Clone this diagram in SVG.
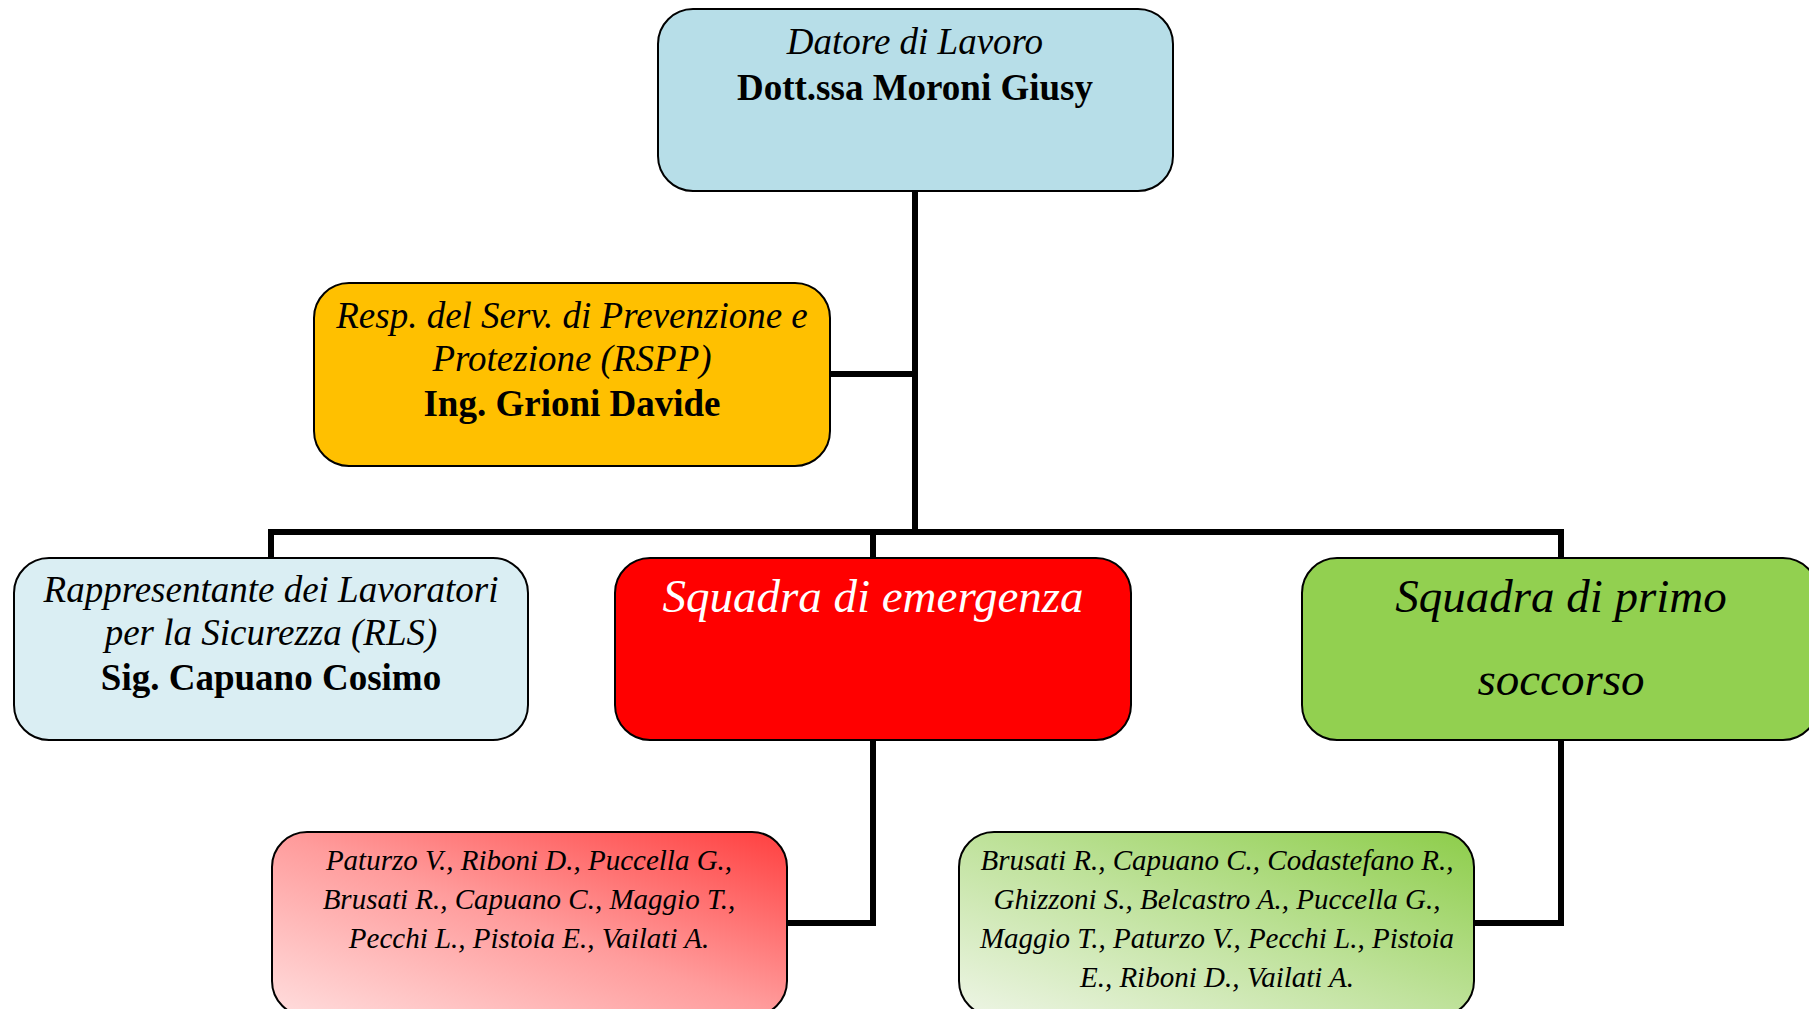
<svg xmlns="http://www.w3.org/2000/svg" width="1809" height="1009" viewBox="0 0 1809 1009">
<style>
.box{stroke:#000;stroke-width:2}
.t{font-family:"Liberation Serif","Times New Roman",serif;text-anchor:middle;fill:#000}
.i{font-style:italic}
.b{font-weight:bold}
.m{font-size:37px}
.l{font-size:47px}
.s{font-size:29px}
.conn{fill:none;stroke:#000;stroke-width:6}
</style>
<defs>
<linearGradient id="gRed" x1="0" y1="1" x2="1" y2="0">
<stop offset="0" stop-color="#FFDEDE"/>
<stop offset="0.5" stop-color="#FF9C9C"/>
<stop offset="1" stop-color="#FF3F3F"/>
</linearGradient>
<linearGradient id="gGreen" x1="0" y1="1" x2="1" y2="0">
<stop offset="0" stop-color="#EEF5E6"/>
<stop offset="0.5" stop-color="#BFE29B"/>
<stop offset="1" stop-color="#8DCD4A"/>
</linearGradient>
</defs>
<rect width="1809" height="1009" fill="#fff"/>
<g id="connectors">
<path class="conn" d="M915 191 V532"/>
<path class="conn" d="M830 374 H915"/>
<path class="conn" d="M271 558 V532 H1561 V558"/>
<path class="conn" d="M873 532 V558"/>
<path class="conn" d="M873 740 V923 H787"/>
<path class="conn" d="M1561 740 V923 H1474"/>
</g>
<g id="datore">
<rect class="box" x="658" y="9" width="515" height="182" rx="35" fill="#B7DEE8"/>
<text class="t i m" x="915" y="54">Datore di Lavoro</text>
<text class="t b m" x="915" y="100">Dott.ssa Moroni Giusy</text>
</g>
<g id="rspp">
<rect class="box" x="314" y="283" width="516" height="183" rx="35" fill="#FFC000"/>
<text class="t i m" x="572" y="328">Resp. del Serv. di Prevenzione e</text>
<text class="t i m" x="572" y="371">Protezione (RSPP)</text>
<text class="t b m" x="572" y="416">Ing. Grioni Davide</text>
</g>
<g id="rls">
<rect class="box" x="14" y="558" width="514" height="182" rx="35" fill="#DAEEF3"/>
<text class="t i m" x="271" y="602">Rappresentante dei Lavoratori</text>
<text class="t i m" x="271" y="645">per la Sicurezza (RLS)</text>
<text class="t b m" x="271" y="690">Sig. Capuano Cosimo</text>
</g>
<g id="emergenza">
<rect class="box" x="615" y="558" width="516" height="182" rx="35" fill="#FF0000"/>
<text class="t i l" x="873" y="612" style="fill:#fff">Squadra di emergenza</text>
</g>
<g id="primo-soccorso">
<rect class="box" x="1302" y="558" width="516" height="182" rx="35" fill="#92D050"/>
<text class="t i l" x="1561" y="612">Squadra di primo</text>
<text class="t i l" x="1561" y="695">soccorso</text>
</g>
<g id="membri-emergenza">
<rect class="box" x="272" y="832" width="515" height="184" rx="35" fill="url(#gRed)"/>
<text class="t i s" x="529" y="870">Paturzo V., Riboni D., Puccella G.,</text>
<text class="t i s" x="529" y="909">Brusati R., Capuano C., Maggio T.,</text>
<text class="t i s" x="529" y="948">Pecchi L., Pistoia E., Vailati A.</text>
</g>
<g id="membri-soccorso">
<rect class="box" x="959" y="832" width="515" height="184" rx="35" fill="url(#gGreen)"/>
<text class="t i s" x="1217" y="870">Brusati R., Capuano C., Codastefano R.,</text>
<text class="t i s" x="1217" y="909">Ghizzoni S., Belcastro A., Puccella G.,</text>
<text class="t i s" x="1217" y="948">Maggio T., Paturzo V., Pecchi L., Pistoia</text>
<text class="t i s" x="1217" y="987">E., Riboni D., Vailati A.</text>
</g>
</svg>
